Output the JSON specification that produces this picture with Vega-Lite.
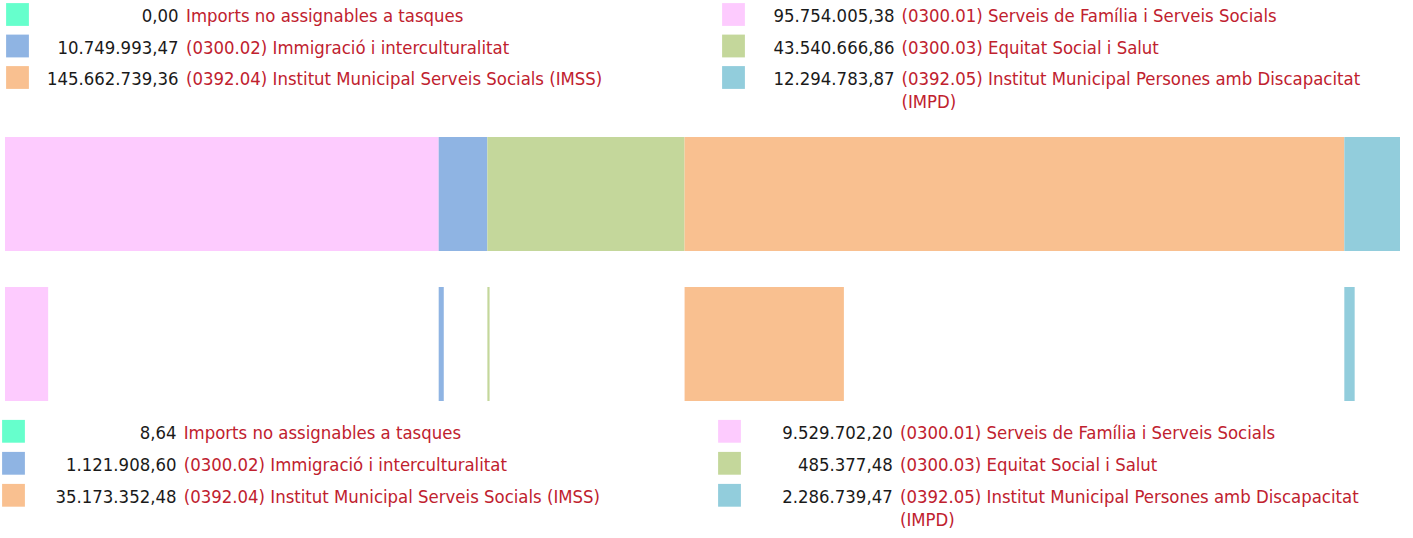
{
  "$schema": "https://vega.github.io/schema/vega-lite/v6.json",
  "width": 1413,
  "height": 538,
  "autosize": {"type": "none"},
  "padding": 0,
  "config": {
    "view": {"stroke": null},
    "locale": {"number": {"decimal": ",", "thousands": ".", "grouping": [3], "currency": ["", "\u00a0€"]}}
  },
  "data": {
    "values": [
      {"order": 0, "label": "\u00a0Imports no assignables a tasques", "total": 0, "part": 8.64},
      {"order": 1, "label": "(0300.01) Serveis de Família i Serveis Socials", "total": 95754005.38, "part": 9529702.20},
      {"order": 2, "label": "(0300.02) Immigració i interculturalitat", "total": 10749993.47, "part": 1121908.60},
      {"order": 3, "label": "(0300.03) Equitat Social i Salut", "total": 43540666.86, "part": 485377.48},
      {"order": 4, "label": "(0392.04) Institut Municipal Serveis Socials (IMSS)", "total": 145662739.36, "part": 35173352.48},
      {"order": 5, "label": "(0392.05) Institut Municipal Persones amb Discapacitat\n(IMPD)", "total": 12294783.87, "part": 2286739.47}
    ]
  },
  "transform": [
    {"window": [{"op": "sum", "field": "total", "as": "cumEnd"}], "sort": [{"field": "order"}], "frame": [null, 0]},
    {"calculate": "datum.cumEnd - datum.total", "as": "start"},
    {"calculate": "datum.order % 2", "as": "col"},
    {"calculate": "floor(datum.order / 2)", "as": "lrow"}
  ],
  "layer": [
    {
      "transform": [
        {"fold": ["total", "part"], "as": ["row", "value"]},
        {"calculate": "datum.start + datum.value", "as": "end"}
      ],
      "mark": {"type": "bar", "opacity": 1},
      "encoding": {
        "x": {"field": "start", "type": "quantitative", "scale": {"range": [5, 1400], "nice": false, "zero": true}, "axis": null},
        "x2": {"field": "end"},
        "y": {"field": "row", "type": "nominal", "scale": {"type": "band", "domain": ["total", "part"], "range": [137, 401], "paddingInner": 0.24, "paddingOuter": 0}, "axis": null},
        "color": {"field": "order", "type": "nominal", "scale": {"domain": [0, 1, 2, 3, 4, 5], "range": ["#66ffcc", "#fdcbfe", "#8fb4e3", "#c4d79b", "#f9c090", "#92cddc"]}, "legend": null}
      }
    },
    {
      "mark": {"type": "square", "size": 520, "opacity": 1, "filled": true},
      "encoding": {
        "x": {"field": "col", "type": "quantitative", "scale": {"domain": [0, 1], "range": [17.5, 733.5]}, "axis": null},
        "y": {"field": "lrow", "type": "quantitative", "scale": {"domain": [0, 2], "range": [14.5, 77.5]}, "axis": null},
        "color": {"field": "order", "type": "nominal", "legend": null}
      }
    },
    {
      "mark": {"type": "text", "align": "right", "baseline": "alphabetic", "dy": 7.5, "color": "#1a1a1a", "font": "DejaVu Sans Condensed, sans-serif", "fontSize": 18.4},
      "encoding": {
        "x": {"field": "col", "type": "quantitative", "scale": {"domain": [0, 1], "range": [178.5, 894.5]}, "axis": null},
        "y": {"field": "lrow", "type": "quantitative", "scale": {"domain": [0, 2], "range": [14.5, 77.5]}, "axis": null},
        "text": {"field": "total", "type": "quantitative", "format": ",.2f"}
      }
    },
    {
      "mark": {"type": "text", "align": "left", "baseline": "alphabetic", "dy": 7.5, "color": "#c0212e", "lineBreak": "\n", "lineHeight": 23, "font": "DejaVu Sans Condensed, sans-serif", "fontSize": 18.4},
      "encoding": {
        "x": {"field": "col", "type": "quantitative", "scale": {"domain": [0, 1], "range": [186, 901.5]}, "axis": null},
        "y": {"field": "lrow", "type": "quantitative", "scale": {"domain": [0, 2], "range": [14.5, 77.5]}, "axis": null},
        "text": {"field": "label", "type": "nominal"}
      }
    },
    {
      "mark": {"type": "square", "size": 520, "opacity": 1, "filled": true},
      "encoding": {
        "x": {"field": "col", "type": "quantitative", "scale": {"domain": [0, 1], "range": [13.5, 729.5]}, "axis": null},
        "y": {"field": "lrow", "type": "quantitative", "scale": {"domain": [0, 2], "range": [431.3, 495.3]}, "axis": null},
        "color": {"field": "order", "type": "nominal", "legend": null}
      }
    },
    {
      "mark": {"type": "text", "align": "right", "baseline": "alphabetic", "dy": 7.5, "color": "#1a1a1a", "font": "DejaVu Sans Condensed, sans-serif", "fontSize": 18.4},
      "encoding": {
        "x": {"field": "col", "type": "quantitative", "scale": {"domain": [0, 1], "range": [176.5, 892.7]}, "axis": null},
        "y": {"field": "lrow", "type": "quantitative", "scale": {"domain": [0, 2], "range": [431.3, 495.3]}, "axis": null},
        "text": {"field": "part", "type": "quantitative", "format": ",.2f"}
      }
    },
    {
      "mark": {"type": "text", "align": "left", "baseline": "alphabetic", "dy": 7.5, "color": "#c0212e", "lineBreak": "\n", "lineHeight": 23, "font": "DejaVu Sans Condensed, sans-serif", "fontSize": 18.4},
      "encoding": {
        "x": {"field": "col", "type": "quantitative", "scale": {"domain": [0, 1], "range": [183.7, 900]}, "axis": null},
        "y": {"field": "lrow", "type": "quantitative", "scale": {"domain": [0, 2], "range": [431.3, 495.3]}, "axis": null},
        "text": {"field": "label", "type": "nominal"}
      }
    }
  ],
  "resolve": {"scale": {"x": "independent", "y": "independent"}}
}
